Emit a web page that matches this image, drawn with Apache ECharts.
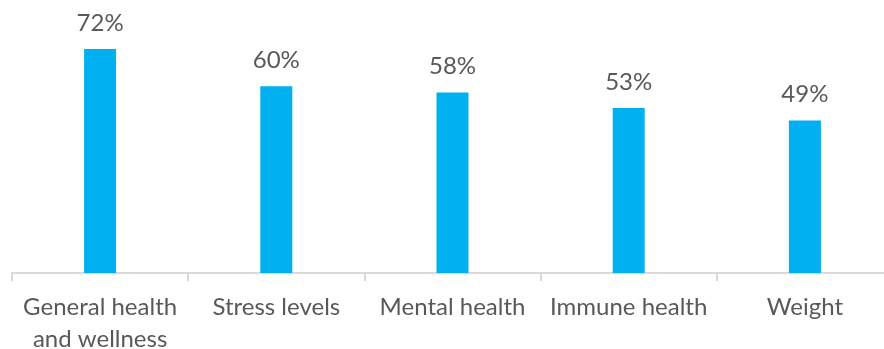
<!DOCTYPE html>
<html><head><meta charset="utf-8">
<script src="https://cdn.jsdelivr.net/npm/echarts@6/dist/echarts.min.js"></script>
<style>html,body{margin:0;padding:0;background:#fff;overflow:hidden}#c{width:893px;height:349px}</style>
</head><body><div id="c"></div>
<script>
const categories = ['General health\nand wellness', 'Stress levels', 'Mental health', 'Immune health', 'Weight'];
const values = [72, 60, 58, 53, 49];
const chart = echarts.init(document.getElementById('c'));
chart.setOption({
  animation: false,
  grid: { left: 12, right: 0, top: 24, bottom: 76, containLabel: false, outerBoundsMode: 'none' },
  xAxis: {
    type: 'category', data: categories,
    axisLine: { lineStyle: { color: '#d9d9d9', width: 2 } },
    axisTick: { show: true, length: 8, lineStyle: { color: '#d9d9d9', width: 2 } },
    axisLabel: { color: '#595959', fontFamily: 'Lato', fontSize: 24, margin: 18, lineHeight: 32, interval: 0 }
  },
  yAxis: { type: 'value', min: 0, max: 80, show: false, splitLine: { show: false } },
  series: [{
    type: 'bar', data: values, barWidth: 32,
    itemStyle: { color: '#00B0F0' },
    label: { show: true, position: 'top', distance: 14, formatter: '{c}%', color: '#595959', fontFamily: 'Lato', fontSize: 24 }
  }]
});
</script></body></html>
